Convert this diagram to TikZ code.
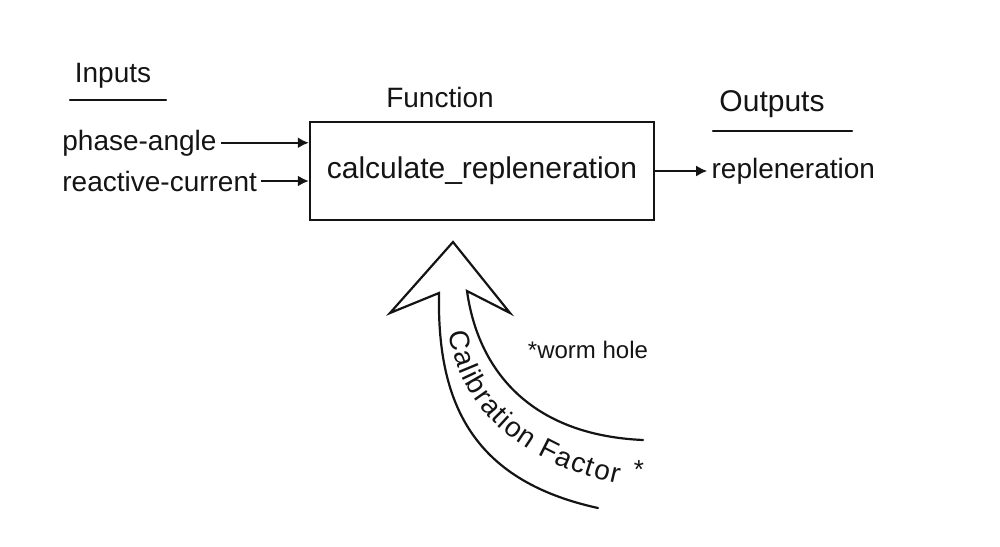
\documentclass[tikz,border=0pt]{standalone}
\usepackage{fontspec}
\setmainfont{Liberation Sans}
\usetikzlibrary{arrows.meta, positioning, decorations.text}
\definecolor{encre}{HTML}{141414}
\tikzset{
  bloc/.style={rectangle, draw=encre, line width=1.2pt, minimum width=172pt,
    minimum height=49pt, font=\fontsize{15}{17}\selectfont, text=encre, inner sep=2pt},
  etiquette/.style={font=\fontsize{14}{16}\selectfont, text=encre, inner sep=2pt},
  titre/.style={font=\fontsize{14}{16}\selectfont, text=encre, inner sep=2pt},
  fleche/.style={-{Latex[length=5.5pt, width=5.5pt]}, line width=1pt, color=encre},
  souligne/.style={line width=1.1pt, color=encre, line cap=round},
  contour/.style={line width=1.1pt, color=encre, line join=miter, line cap=round}
}

\begin{document}
\begin{tikzpicture}[x=0.5pt, y=-0.5pt, node distance=4pt and 8pt]
    \useasboundingbox (0,0) rectangle (1000,546);

    % Fonction
    \node[bloc] (fonc) at (482,171) {calculate\_repleneration};
    \node[titre, above=4.5pt of fonc, xshift=-21pt] (titrefonc) {Function};

    % Entrees
    \node[titre] (entrees) at (113,76) {Inputs};
    \draw[souligne] (70,100) -- (166,100);
    \node[etiquette, anchor=base west] (phase) at (58,150) {phase-angle};
    \node[etiquette, anchor=base west] (reac) at (58,191) {reactive-current};
    \draw[fleche] (phase.east) -- (phase.east -| fonc.west);
    \draw[fleche] (reac.east) -- (reac.east -| fonc.west);

    % Sorties
    \node[titre, font=\fontsize{15}{17}\selectfont] (sorties) at (772,104) {Outputs};
    \draw[souligne] (713,131) -- (852,131);
    \node[etiquette, right=26pt of fonc] (sortie) {repleneration};
    \draw[fleche] (fonc.east) -- (sortie.west);

    % Grande fleche courbe vers la fonction
    \draw[contour] (598,508) .. controls (470,480) and (437,400) .. (439,293)
      -- (390,313) -- (453,242) -- (510,313) -- (467,291)
      .. controls (478,370) and (530,435) .. (643,440);
    \path[decorate, decoration={text along path, text align=fit to path,
        text={|\fontsize{14}{16}\selectfont\color{encre}|Calibration Factor}}]
      (449,332) .. controls (460,410) and (520,462) .. (618,484);
    \node[etiquette, font=\fontsize{13}{15}\selectfont] (etoile) at (639,470) {*};
    \node[etiquette, font=\fontsize{12}{14}\selectfont] (trou) at (588,350) {*worm hole};
\end{tikzpicture}
\end{document}
